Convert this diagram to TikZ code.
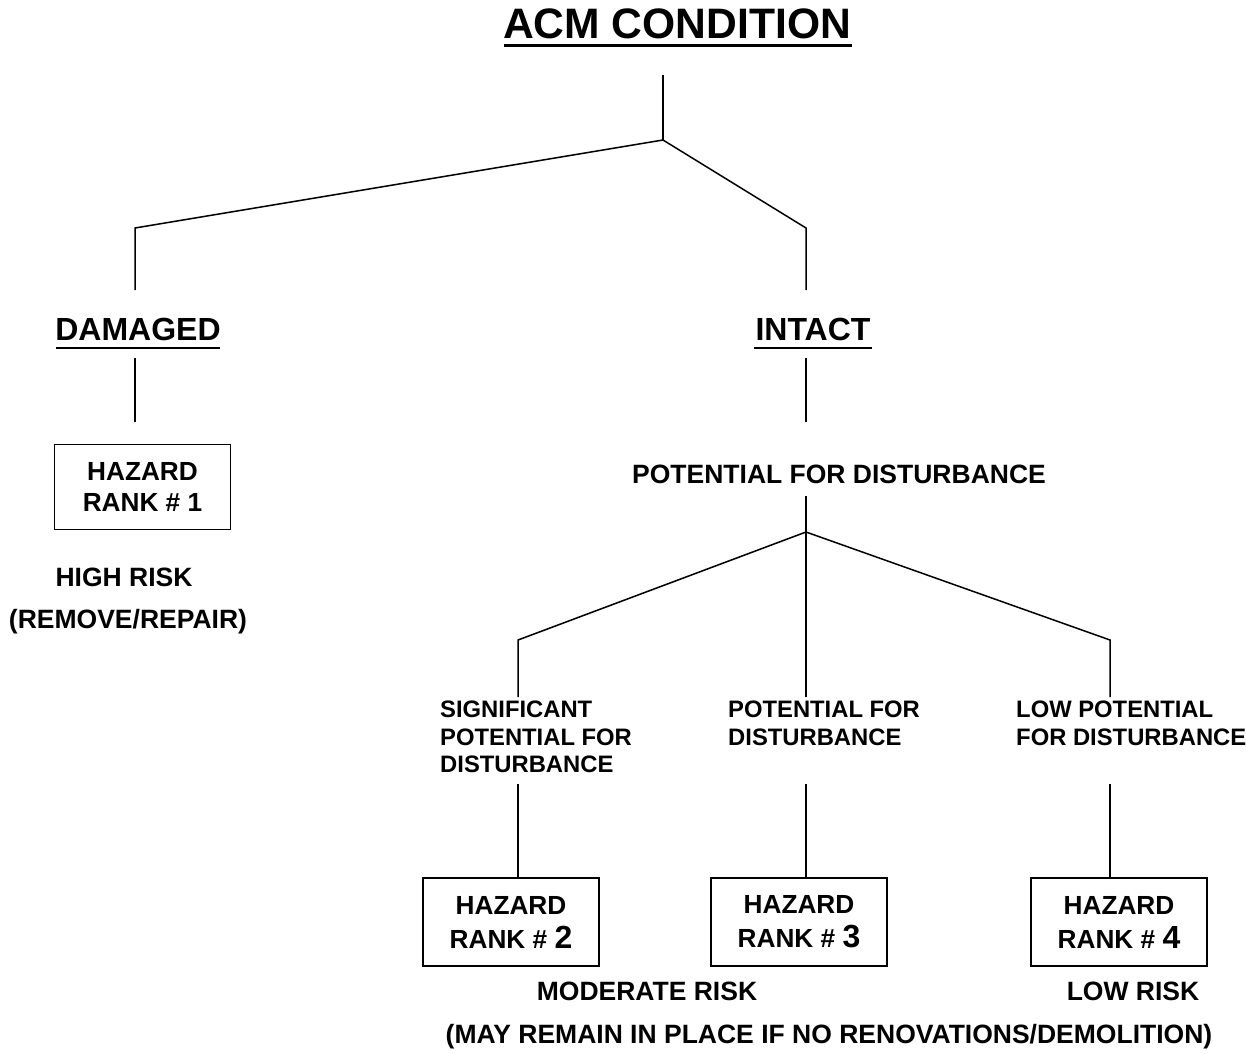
\documentclass[tikz,border=0pt]{standalone}
\usepackage{fontspec}
\setmainfont{Liberation Sans}
\begin{document}
\begin{tikzpicture}[x=1pt,y=-1pt,
  every node/.style={font=\bfseries\fontsize{26.5}{30}\selectfont, inner sep=0pt},
  conn/.style={line width=1.5pt},
  rankbox/.style={draw, line width=1.8pt, minimum width=176pt, minimum height=88pt, align=center, font=\bfseries\fontsize{26.2}{34}\selectfont},
  lbl/.style={align=left, anchor=north west, font=\bfseries\fontsize{23.8}{27.5}\selectfont}
]
\useasboundingbox (0,0) rectangle (1246,1053);
% title
\node[font=\bfseries\fontsize{42.6}{48}\selectfont] (title) at (677,24) {ACM CONDITION};
\draw[line width=3pt] (504,45) -- (852,45);
% top tree
\coordinate (t0) at (663,75);
\coordinate (j0) at (663,140);
\coordinate (jl) at (135,228);
\coordinate (jr) at (806,228);
\coordinate (dl) at (135,290);
\coordinate (dr) at (806,290);
\draw[conn] (t0) -- (j0);
\draw[conn] (j0) -- (jl) -- (dl);
\draw[conn] (j0) -- (jr) -- (dr);
% damaged / intact
\node[font=\bfseries\fontsize{32}{36}\selectfont] (dam) at (138,329) {DAMAGED};
\draw[line width=2.2pt] (56,348) -- (220,348);
\node[font=\bfseries\fontsize{32}{36}\selectfont] (int) at (813,329) {INTACT};
\draw[line width=2.2pt] (754,348) -- (872,348);
\coordinate (dm1) at (135,358);
\coordinate (dm2) at (135,422);
\coordinate (in1) at (806,358);
\coordinate (in2) at (806,422);
\draw[conn] (dm1) -- (dm2);
\draw[conn] (in1) -- (in2);
% rank 1
\node[rankbox, minimum height=85pt, font=\bfseries\fontsize{26.2}{31}\selectfont] (r1) at (142.5,487) {HAZARD\\RANK \# 1};
\node (hr) at (124,577) {HIGH RISK};
\node (rr) at (128,622) {(REMOVE/REPAIR)};
% potential for disturbance
\node (pfd) at (839,474) {POTENTIAL FOR DISTURBANCE};
\coordinate (p1) at (806,496);
\coordinate (pj) at (806,532);
\coordinate (bl) at (518,640);
\coordinate (br) at (1110,640);
\coordinate (bl2) at (518,697);
\coordinate (bm2) at (806,697);
\coordinate (br2) at (1110,697);
\draw[conn] (p1) -- (pj);
\draw[conn] (pj) -- (bl) -- (bl2);
\draw[conn] (pj) -- (bm2);
\draw[conn] (pj) -- (br) -- (br2);
% labels
\node[lbl] (l1) at (440,701) {SIGNIFICANT\\POTENTIAL FOR\\DISTURBANCE};
\node[lbl] (l2) at (728,701) {POTENTIAL FOR\\DISTURBANCE};
\node[lbl] (l3) at (1016,701) {LOW POTENTIAL\\FOR DISTURBANCE};
% lower verticals
\coordinate (v1a) at (518,784);
\coordinate (v2a) at (806,784);
\coordinate (v3a) at (1110,784);
\node[rankbox] (r2) at (511,922) {HAZARD\\RANK \# {\fontsize{32}{34}\selectfont 2}};
\node[rankbox] (r3) at (799,922) {HAZARD\\RANK \# {\fontsize{32}{34}\selectfont 3}};
\node[rankbox] (r4) at (1119,922) {HAZARD\\RANK \# {\fontsize{32}{34}\selectfont 4}};
\draw[conn] (v1a) -- (v1a |- r2.north);
\draw[conn] (v2a) -- (v2a |- r3.north);
\draw[conn] (v3a) -- (v3a |- r4.north);
% bottom
\node (mr) at (647,991) {MODERATE RISK};
\node (lr) at (1133,991) {LOW RISK};
\node (may) at (829,1037) {(MAY REMAIN IN PLACE IF NO RENOVATIONS/DEMOLITION)};
\end{tikzpicture}
\end{document}
